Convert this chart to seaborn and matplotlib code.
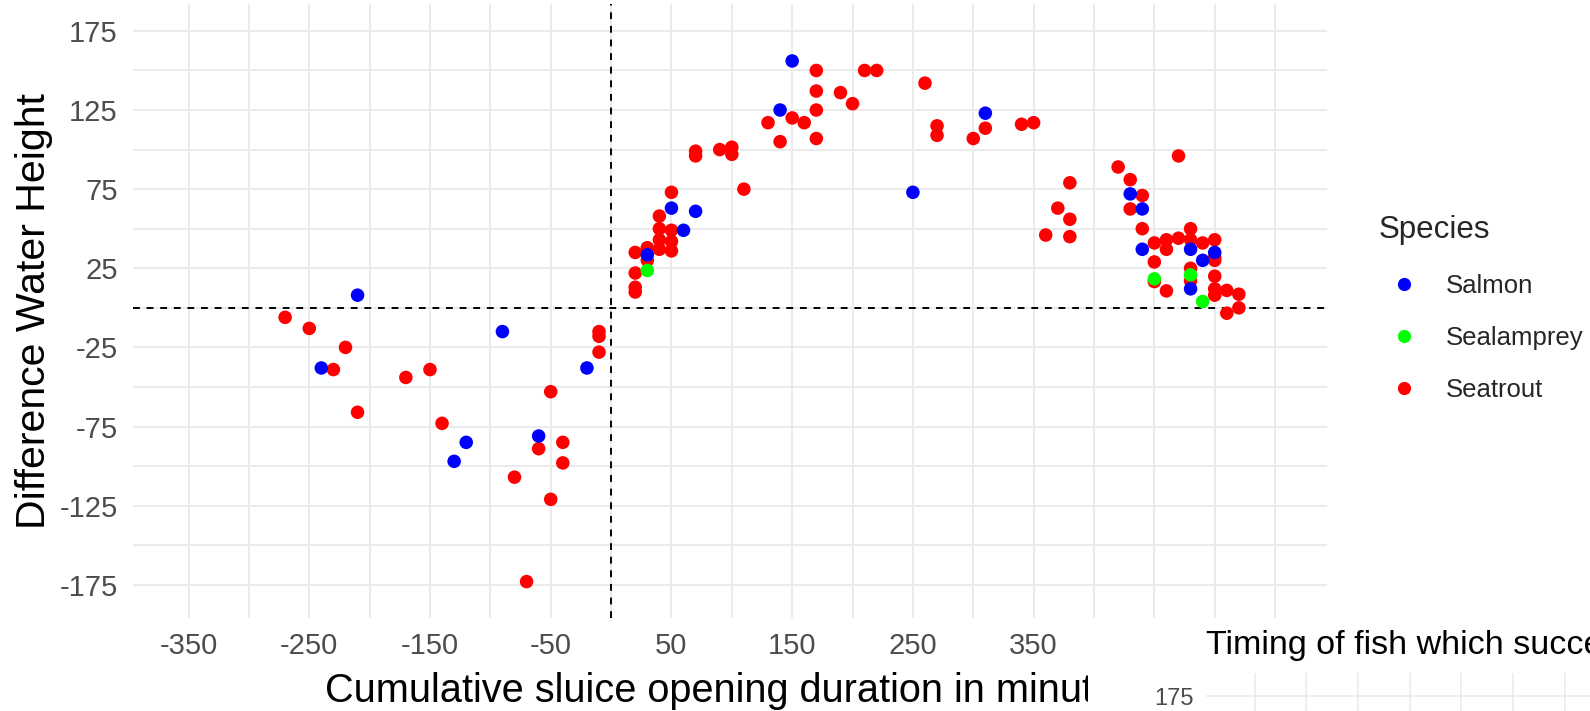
import numpy as np
import pandas as pd
import matplotlib
matplotlib.use("Agg")
import matplotlib.pyplot as plt
import seaborn as sns
from matplotlib.ticker import FixedLocator
from matplotlib.patches import Rectangle
from matplotlib.lines import Line2D

# ---------------- data ----------------
salmon_x = [-210, -240, -120, -130, -90, -60, -20, 150, 140, 50, 70, 60, 30,
            310, 250, 430, 440, 440, 480, 490, 500, 480]
salmon_y = [8, -38, -85, -97, -15, -81, -38, 156, 125, 63, 61, 49, 33.5,
            123, 73, 72, 62.5, 37, 37, 30, 35, 12]

lamprey_x = [30, 450, 480, 490]
lamprey_y = [23.6, 18.3, 20.8, 4]

trout_x = [-270, -250, -220, -230, -210, -170, -150, -140, -50, -60, -40, -40,
           -80, -50, -70, -10, -10, -10,
           170, 210, 220, 170, 190, 200, 170, 150, 160, 130, 140, 170, 70, 70,
           90, 100, 100, 110, 50, 40, 40, 50, 40, 50, 40, 50, 20, 30, 30, 20,
           20, 20,
           260, 270, 270, 310, 300, 340, 350, 380, 370, 380, 360, 380,
           470, 420, 430, 440, 430, 440, 450, 460, 460, 470, 480, 480, 490,
           500, 500, 500, 450, 450, 460, 480, 480, 500, 500, 500, 510, 520,
           520, 510]
trout_y = [-6, -13, -25, -39, -66, -44, -39, -73, -53, -89, -85, -98,
           -107, -121, -173, -28, -15, -18,
           150, 150, 150, 137, 136, 129, 125, 120, 117, 117, 105, 107, 99, 96,
           100, 101.5, 97, 75, 73, 58, 50, 49, 43, 42, 37, 36, 35, 38, 30, 22,
           13, 10,
           142, 115, 109, 113.5, 107, 116, 117, 79, 63, 56, 46, 45,
           96, 89, 81, 71, 62.5, 50, 41, 43, 37, 44, 50, 43, 41,
           43, 32, 30, 29, 16.6, 10.7, 25, 17, 20, 12, 8, 11, 8.6,
           0, -3.4]

species_names = ["Salmon", "Sealamprey", "Seatrout"]
species_colors = ["#0000FF", "#00FF00", "#FF0000"]

x_major = [-350, -250, -150, -50, 50, 150, 250, 350]
x_minor = [-300, -200, -100, 0, 100, 200, 300, 400, 450, 500, 550]
y_major = [-175, -125, -75, -25, 25, 75, 125, 175]
y_minor = [-150, -100, -50, 0, 50, 100, 150]

inset_y_major = [175]
inset_x_grid = [-350, -300, -250, -200, -150, -100, -50]

df = pd.DataFrame({
    "x": trout_x + salmon_x + lamprey_x,
    "y": trout_y + salmon_y + lamprey_y,
    "Species": (["Seatrout"] * len(trout_x) + ["Salmon"] * len(salmon_x)
                + ["Sealamprey"] * len(lamprey_x)),
})

# ---------------- style ----------------
sns.set_style("white")
plt.rcParams["font.family"] = ["Liberation Sans", "DejaVu Sans"]
plt.rcParams["axes.unicode_minus"] = False

W, H = 1590, 711
fig = plt.figure(figsize=(W / 100, H / 100), dpi=100)
fig.patch.set_facecolor("white")

GRID = "#EBEBEB"
TICKC = "#4D4D4D"

ax = fig.add_axes([133 / W, 93 / H, 1194 / W, 614 / H])
ax.set_zorder(0)
ax.set_xlim(-396, 593)
ax.set_ylim(-196, 192)
ax.xaxis.set_major_locator(FixedLocator(x_major))
ax.xaxis.set_minor_locator(FixedLocator(x_minor))
ax.yaxis.set_major_locator(FixedLocator(y_major))
ax.yaxis.set_minor_locator(FixedLocator(y_minor))
ax.grid(which="both", color=GRID, lw=1.4)
ax.set_axisbelow(True)
for s in ax.spines.values():
    s.set_visible(False)
ax.tick_params(which="both", length=0)
ax.tick_params(axis="both", labelsize=21, labelcolor=TICKC)
ax.tick_params(axis="x", pad=10)
ax.tick_params(axis="y", pad=11)

dash = (0, (3.5, 3.5))
ax.axhline(0, color="black", ls=dash, lw=1.4, zorder=2)
ax.axvline(0, color="black", ls=dash, lw=1.4, zorder=2)

sns.scatterplot(data=df, x="x", y="y", hue="Species", hue_order=species_names,
                palette=dict(zip(species_names, species_colors)),
                s=95, linewidth=0, ax=ax, zorder=3, legend=False)

ax.set_xlabel("Cumulative sluice opening duration in minutes", fontsize=28.6,
              color="black", labelpad=9)
ax.set_ylabel("Difference Water Height", fontsize=29.5, color="black",
              labelpad=4.5)

handles = [Line2D([], [], ls="", marker="o", markersize=9.5, color=c,
                  markeredgewidth=0) for c in species_colors]
leg = ax.legend(handles, species_names, loc="upper left",
                bbox_to_anchor=(1368 / W, (H - 205) / H),
                bbox_transform=fig.transFigure, frameon=False,
                title="Species", fontsize=18.5, title_fontsize=22.5,
                handlelength=2.0, handletextpad=0.62, labelspacing=1.1,
                borderaxespad=0, alignment="left")

# white background of the overlapping second plot
fig.patches.append(Rectangle((1088 / W, 0), 1 - 1088 / W, 90 / H,
                             transform=fig.transFigure, facecolor="white",
                             edgecolor="none", zorder=1))

# ---------------- second (overlapping) plot ----------------
ax2 = fig.add_axes([1206 / W, 0, (W - 1206) / W, 38 / H])
ax2.set_zorder(2)
ax2.set_facecolor("white")
ax2.set_xlim(-397, -397 + (W - 1206) / 1.034)
ax2.set_ylim(192 - 38 / 1.358, 192)
ax2.xaxis.set_major_locator(FixedLocator(inset_x_grid))
ax2.yaxis.set_major_locator(FixedLocator(inset_y_major))
ax2.grid(which="both", color=GRID, lw=1.2)
ax2.set_axisbelow(True)
for s in ax2.spines.values():
    s.set_visible(False)
ax2.tick_params(which="both", length=0)
ax2.tick_params(axis="x", labelbottom=False)
ax2.tick_params(axis="y", labelsize=17, labelcolor=TICKC, pad=9)
ax2.set_title("Timing of fish which successfully passed", loc="left",
              fontsize=24.5, color="black", pad=14)

fig.savefig("out.png", dpi=100, facecolor="white")
